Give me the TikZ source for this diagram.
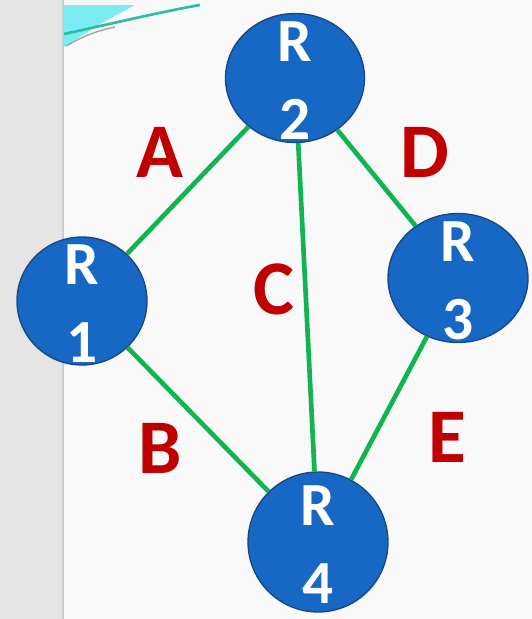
\documentclass[tikz,border=0pt]{standalone}
\usepackage{fontspec}
\setmainfont{Carlito}
\definecolor{routerblue}{RGB}{22,104,196}
\definecolor{routeredge}{RGB}{24,70,130}
\definecolor{linkgreen}{RGB}{16,180,80}
\definecolor{labelred}{RGB}{192,0,0}
\definecolor{panelgray}{RGB}{229,229,229}
\definecolor{slidecyan}{RGB}{125,236,242}

\tikzset{every picture/.style={line width=0.75pt}}
\tikzset{
  router/.style={ellipse, draw=routeredge, line width=1pt, fill=routerblue, inner sep=0pt,
    label={[text=white, align=center, inner sep=0pt, yshift=-2pt, font=\bfseries\fontsize{46}{58}\selectfont]center:#1}},
  link/.style={draw=linkgreen, line width=3.5pt},
  linklabel/.style={text=labelred, font=\bfseries\fontsize{58}{58}\selectfont}
}
\usetikzlibrary{shapes.geometric}

\begin{document}
\begin{tikzpicture}[x=0.75pt,y=0.75pt,yscale=-1,xscale=1]
\useasboundingbox (0,0) rectangle (532,619);

%Shape: Rectangle [id:background] 
\fill [color={rgb, 255:red, 249; green, 249; blue, 249 }] (0,0) rectangle (532,619) ;
%Shape: Rectangle [id:panel] 
\fill [panelgray] (0,0) rectangle (62,619) ;
\draw [color={rgb, 255:red, 205; green, 205; blue, 205 }, line width=1.5] (63,0) -- (63,619) ;
%Shape: Polygon [id:corner] 
\fill [slidecyan] (64,5) -- (135,5) -- (100,24) -- (64,47) -- cycle ;
\draw [color={rgb, 255:red, 40; green, 190; blue, 170 }, line width=2] (64,34) .. controls (110,24) and (160,12) .. (200,5) ;
\draw [color={rgb, 255:red, 160; green, 160; blue, 160 }, line width=1] (66,46) .. controls (80,38) and (95,31) .. (115,27) ;

% Router Nodes
\node [router={R\\2}, minimum width=104.25pt, minimum height=96.75pt] (r2) at (295,78) {};
\node [router={R\\1}, minimum width=97.5pt, minimum height=96pt] (r1) at (82,301) {};
\node [router={R\\3}, minimum width=105pt, minimum height=96.75pt] (r3) at (458,278) {};
\node [router={R\\4}, minimum width=105pt, minimum height=105pt] (r4) at (318,542) {};

%Straight Lines [id:links] 
\draw [link] (r1) -- (r2) ;
\draw [link] (r1) -- (r4) ;
\draw [link] (r2) -- (r4) ;
\draw [link] (r2) -- (r3) ;
\draw [link] (r3) -- (r4) ;

% Text Node
\node [linklabel] (la) at (160,152) {A};
\node [linklabel] (lb) at (160,448) {B};
\node [linklabel] (lc) at (274,289) {C};
\node [linklabel] (ld) at (425,152) {D};
\node [linklabel] (le) at (447,437) {E};

\end{tikzpicture}
\end{document}
